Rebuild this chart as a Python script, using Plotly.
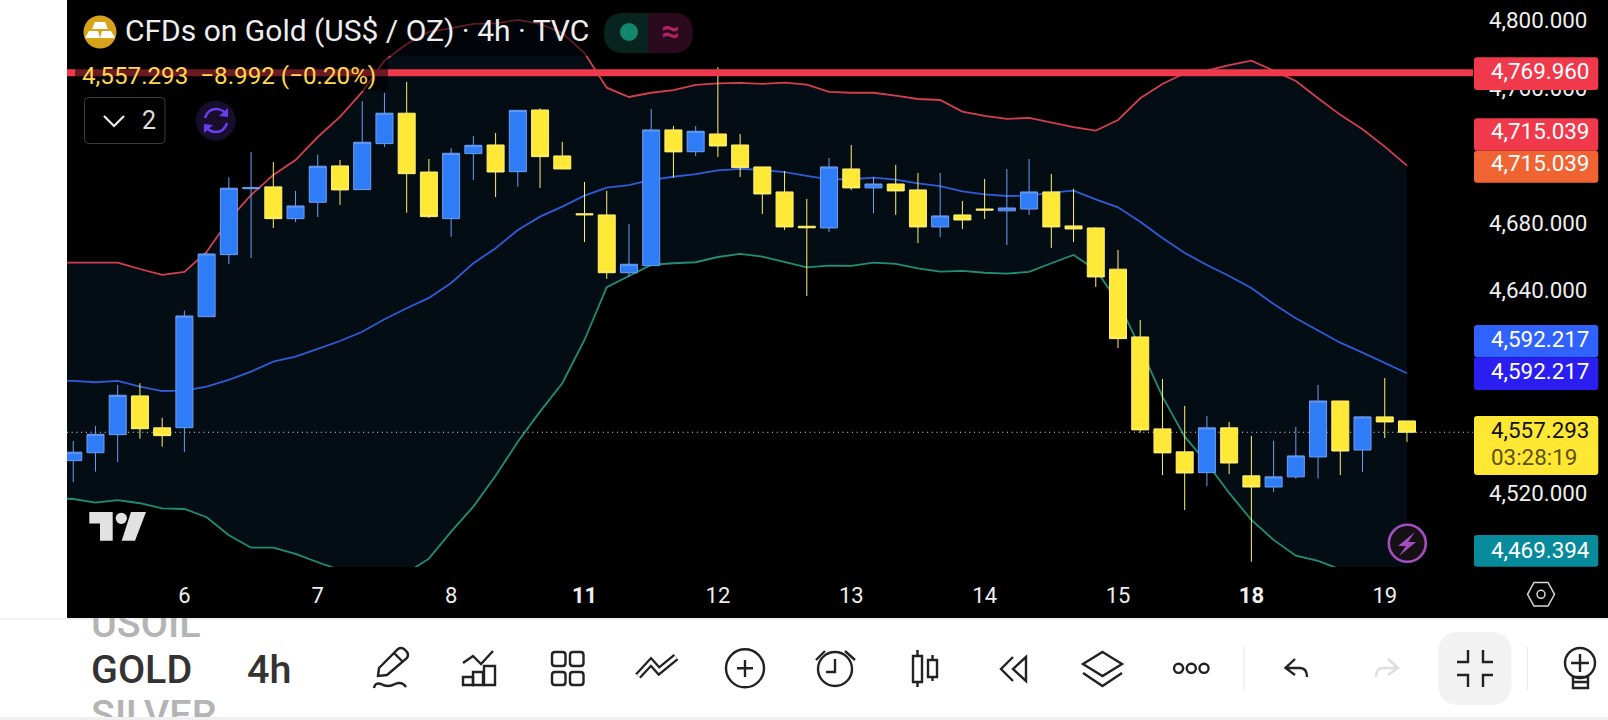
import plotly.graph_objects as go

bars = list(range(-5, 56))
band_bars = list(range(-6, 56))
opens = [4540.5,4545.2,4555.9,4578.8,4559.9,4560.0,4625.7,4662.4,4701.4,4702.5,4683.7,4693.4,4714.9,4700.9,4728.1,4746.1,4711.3,4683.7,4722.2,4727.3,4711.5,4748.0,4720.8,4686.6,4685.9,4651.7,4655.9,4736.2,4723.3,4733.8,4727.3,4714.3,4699.5,4679.2,4678.2,4713.1,4701.9,4704.2,4700.7,4678.8,4685.9,4689.4,4688.3,4689.4,4699.5,4679.4,4678.2,4653.8,4613.7,4559.3,4545.7,4533.4,4559.9,4531.5,4524.9,4530.9,4542.7,4575.8,4546.8,4566.4,4564.0]
closes = [4545.5,4556.1,4579.2,4559.4,4555.3,4626.1,4662.8,4701.7,4702.0,4683.7,4691.2,4714.7,4700.7,4728.9,4746.1,4710.3,4684.9,4722.4,4727.1,4711.3,4747.8,4720.4,4713.1,4686.0,4651.7,4656.7,4736.2,4723.2,4735.4,4726.7,4713.9,4698.3,4678.8,4678.3,4714.3,4701.9,4704.2,4700.1,4678.8,4685.3,4682.9,4688.8,4690.0,4699.5,4678.8,4677.6,4649.2,4612.7,4558.7,4545.1,4533.2,4559.9,4539.1,4524.9,4530.9,4543.3,4575.8,4546.2,4566.4,4563.4,4557.3]
highs = [4552.1,4561.0,4585.3,4586.3,4565.8,4629.3,4663.6,4708.2,4723.2,4717.2,4700.1,4721.6,4718.4,4753.2,4758.1,4764.6,4719.0,4725.4,4732.6,4734.4,4747.8,4749.0,4729.1,4705.4,4700.1,4680.6,4748.6,4738.5,4738.5,4773.3,4733.8,4714.3,4711.9,4695.4,4719.6,4727.3,4708.4,4715.5,4710.7,4710.7,4694.2,4707.2,4713.1,4719.0,4710.1,4701.3,4678.6,4665.2,4623.8,4588.8,4572.9,4567.0,4563.4,4555.1,4552.2,4560.4,4585.3,4575.8,4567.0,4589.4,4564.0]
lows = [4527.9,4534.0,4539.7,4553.5,4548.8,4545.7,4625.4,4656.9,4660.4,4678.2,4681.7,4684.7,4691.8,4700.9,4726.1,4687.2,4684.1,4673.0,4706.6,4696.5,4702.6,4701.9,4713.1,4669.9,4648.0,4649.4,4655.9,4708.0,4720.8,4720.2,4708.4,4686.5,4677.0,4638.0,4675.8,4700.7,4686.9,4685.9,4669.3,4672.7,4677.6,4683.5,4668.1,4685.9,4666.4,4669.9,4643.3,4607.2,4557.1,4532.0,4511.3,4525.5,4532.6,4480.7,4522.0,4529.7,4529.9,4532.0,4533.8,4553.9,4551.6]
bb_upper = [4657.7,4657.7,4657.7,4657.7,4653.9,4650.4,4652.2,4664.0,4682.9,4697.7,4709.6,4718.4,4732.0,4743.9,4758.7,4777.2,4787.1,4794.2,4796.5,4798.9,4799.3,4801.3,4798.9,4793.6,4781.7,4761.2,4755.7,4758.2,4759.8,4762.8,4763.8,4764.0,4763.4,4764.2,4763.0,4758.7,4758.2,4758.2,4756.5,4754.5,4753.9,4747.0,4744.5,4742.7,4743.3,4740.5,4737.8,4735.8,4742.1,4754.9,4763.4,4769.7,4771.3,4774.6,4777.2,4771.3,4765.2,4754.9,4745.1,4736.6,4726.3,4715.04]
bb_middle = [4587.9,4587.7,4586.9,4587.7,4584.3,4581.7,4581.9,4584.3,4588.3,4593.2,4599.1,4602.0,4606.6,4611.3,4616.8,4624.2,4630.7,4636.8,4645.6,4657.3,4666.2,4677.0,4684.9,4690.8,4697.3,4702.0,4703.6,4706.6,4708.5,4710.1,4712.3,4713.1,4712.5,4711.2,4709.0,4707.0,4707.0,4708.0,4706.8,4704.6,4703.0,4699.9,4698.1,4697.1,4697.3,4699.1,4700.3,4695.1,4690.4,4681.9,4672.3,4663.4,4656.3,4649.8,4642.7,4633.2,4624.8,4617.8,4610.3,4604.4,4598.5,4592.22]
bb_lower = [4518.4,4517.8,4515.7,4517.1,4515.3,4512.3,4511.9,4507.0,4496.4,4489.0,4489.0,4485.3,4480.4,4475.8,4472.9,4471.7,4474.1,4482.5,4498.5,4513.3,4531.5,4551.7,4569.5,4586.3,4611.9,4643.1,4649.8,4656.3,4657.3,4657.9,4661.0,4662.8,4661.2,4658.1,4654.9,4655.9,4655.7,4657.7,4656.9,4654.3,4652.3,4652.8,4651.7,4651.2,4652.2,4657.3,4662.2,4653.3,4634.6,4607.2,4578.4,4554.7,4539.1,4521.4,4505.4,4493.6,4484.3,4481.2,4476.2,4471.1,4469.9,4469.39]

day_bars = [0, 6, 12, 18, 24, 30, 36, 42, 48, 54]
day_labels = ["6", "7", "8", "<b>11</b>", "12", "13", "14", "15", "<b>18</b>", "19"]
price_ticks = [4800, 4760, 4680, 4640, 4520]
last_price = 4557.293
alert_price = 4769.960
x_range = [-5.281, 57.97]
y_range = [4477.57, 4813.08]

W, H = 1608, 720
FONT = "Roboto"
INK = "#222222"

fig = go.Figure()
fig.add_trace(go.Scatter(x=band_bars, y=bb_upper, mode="lines", line=dict(color="#d33f4f", width=1.8), hoverinfo="skip"))
fig.add_trace(go.Scatter(x=band_bars, y=bb_lower, mode="lines", line=dict(color="#1f8f73", width=1.8), fill="tonexty", fillcolor="#040d14", hoverinfo="skip"))
fig.add_trace(go.Scatter(x=band_bars, y=bb_middle, mode="lines", line=dict(color="#2f5cd6", width=1.8), hoverinfo="skip"))
fig.add_trace(go.Scatter(x=x_range, y=[last_price, last_price], mode="lines", line=dict(color="#e8e8d8", width=1, dash="1px,3.7px"), hoverinfo="skip"))
# candles live on overlaying axes so that they sit above the band fill
fig.add_trace(go.Candlestick(
    x=bars, open=opens, high=highs, low=lows, close=closes, hoverinfo="skip", xaxis="x4", yaxis="y4",
    increasing=dict(line=dict(color="#6d9ff5", width=1), fillcolor="#2e7cf6"),
    decreasing=dict(line=dict(color="#fff070", width=1), fillcolor="#ffe936"),
))
fig.add_trace(go.Scatter(x=x_range, y=[alert_price, alert_price], mode="lines", xaxis="x4", yaxis="y4",
                         line=dict(color="#f03a4c", width=7), hoverinfo="skip"))

# toolbar text: clipped by its own strip, like the scrolling symbol picker
fig.add_trace(go.Scatter(
    x=[91, 91, 91, 247], y=[627, 673, 718, 673], mode="text", xaxis="x2", yaxis="y2",
    text=["USOIL", "GOLD", "SILVER", "4h"], textposition="middle right",
    textfont=dict(family=FONT, size=39.5, color=["#b4b4b4", "#333333", "#b4b4b4", "#333333"], weight=500),
    hoverinfo="skip",
))
# pixel overlay axes used by the chrome
fig.add_trace(go.Scatter(x=[0], y=[0], mode="markers", marker=dict(opacity=0), xaxis="x3", yaxis="y3", hoverinfo="skip"))

shapes = []
annos = []

def path(d, line=None, width=0, fill=None, opacity=None):
    s = dict(type="path", path=d, xref="x3", yref="y3", layer="above",
             line=dict(color=line or "rgba(0,0,0,0)", width=width))
    if fill:
        s["fillcolor"] = fill
    if opacity is not None:
        s["opacity"] = opacity
    shapes.append(s)

def rrect(x0, y0, x1, y1, r, line=None, width=0, fill=None, opacity=None):
    d = (f"M{x0+r},{y0} L{x1-r},{y0} Q{x1},{y0} {x1},{y0+r} L{x1},{y1-r} Q{x1},{y1} {x1-r},{y1} "
         f"L{x0+r},{y1} Q{x0},{y1} {x0},{y1-r} L{x0},{y0+r} Q{x0},{y0} {x0+r},{y0} Z")
    path(d, line, width, fill, opacity)

def circle(cx, cy, r, line=None, width=0, fill=None):
    s = dict(type="circle", x0=cx-r, x1=cx+r, y0=cy-r, y1=cy+r, xref="x3", yref="y3", layer="above",
             line=dict(color=line or "rgba(0,0,0,0)", width=width))
    if fill:
        s["fillcolor"] = fill
    shapes.append(s)

def text(x, y, t, size, color, anchor="left", weight=None):
    f = dict(family=FONT, size=size, color=color)
    if weight:
        f["weight"] = weight
    annos.append(dict(x=x, y=y, xref="x3", yref="y3", text=t, showarrow=False, xanchor=anchor, yanchor="middle", font=f))

# page background blocks (under everything)
shapes.append(dict(type="rect", xref="paper", yref="paper", x0=67/W, x1=1, y0=(H-618)/H, y1=1, layer="below", fillcolor="#000000", line=dict(width=0)))
shapes.append(dict(type="rect", xref="paper", yref="paper", x0=0, x1=1, y0=(H-620)/H, y1=(H-618)/H, layer="below", fillcolor="#f0f0f0", line=dict(width=0)))

# legend / title dimmers
path("M75,10 L597,10 L597,56 L388,56 L388,91 L75,91 Z", fill="#000000", opacity=0.55)

# gold icon and title
circle(100, 32, 16.5, fill="#d9a21b")
path("M95,22 L105,22 L108,29 L92,29 Z", fill="#ffffff")
path("M89,31 L98,31 L100,38 L85,38 Z", fill="#ffffff")
path("M102,31 L111,31 L115,38 L100,38 Z", fill="#ffffff")
text(123, 30.5, "CFDs on Gold (US$ / OZ) · 4h · TVC", 30, "#eeeeee")

# status pill
path("M648,13 L624,13 Q604,13 604,33 Q604,53 624,53 L648,53 Z", fill="#07241f")
path("M648,13 L673,13 Q693,13 693,33 Q693,53 673,53 L648,53 Z", fill="#2a0a1c")
circle(629, 32, 9, fill="#12876c")
text(670, 31, "<b>≈</b>", 32, "#b0235f", "center")

# OHLC legend
text(80, 75.5, "4,557.293  −8.992 (−0.20%)", 24.2, "#ffd84d")

# collapse button and sync icon
rrect(84.5, 97.5, 165, 143.5, 4, line="#3c3c3c", width=1)
path("M104,116 L114,126 L124,116", line="#eeeeee", width=2.2)
text(149, 120, "2", 25, "#dddddd", "center")
circle(215.7, 120.7, 20, fill="#160e2b")
path("M205,118 Q208,109 216,109 Q223,109 227,115", line="#6b3cf0", width=2.5)
path("M228,108 L228,117 L219,116 Z", fill="#6b3cf0")
path("M227,123 Q224,132 216,132 Q209,132 205,126", line="#6b3cf0", width=2.5)
path("M204,133 L204,124 L213,125 Z", fill="#6b3cf0")

# TradingView logo
path("M89.3,512 L112.7,512 L112.7,540.7 L100,540.7 L100,523.5 L89.3,523.5 Z", fill="#e2e2e2")
circle(121.3, 518.3, 5.6, fill="#e2e2e2")
path("M131,512 L146,512 L135,540.7 L121.7,540.7 Z", fill="#e2e2e2")

# lightning
circle(1407.3, 543.3, 18.5, line="#a34fc0", width=2.6, fill="#141014")
path("M1415,532 L1398,546 L1406,546 L1399,556 L1416,542 L1408,542 Z", fill="#a34fc0")

# price badges
badges = [
    (57.3, 90, 71.4, "#f03a4c", "4,769.960"),
    (118.3, 150.7, 131.4, "#f03a4c", "4,715.039"),
    (150.7, 182.7, 163.2, "#f06433", "4,715.039"),
    (325, 357.3, 338.5, "#2f62ff", "4,592.217"),
    (357.3, 390, 371.4, "#2a1ff0", "4,592.217"),
    (535, 566.7, 549.7, "#078a9c", "4,469.394"),
]
for y0, y1, ty, c, t in badges:
    rrect(1474, y0, 1598.3, y1, 3, fill=c)
    text(1489, ty, t, 22.4, "#ffffff")
rrect(1474, 416, 1598.3, 475, 3, fill="#ffe733")
text(1489, 430.2, "4,557.293", 22.4, "#111111")
text(1489, 456.7, "03:28:19", 22.4, "#5c5200")

# settings hexagon
path("M1527.5,594.3 L1534,582.5 L1548,582.5 L1554.5,594.3 L1548,606 L1534,606 Z", line="#d8d8d8", width=1.5)
circle(1541, 594.3, 4, line="#d8d8d8", width=1.5)

# bottom toolbar icons
shapes.append(dict(type="rect", xref="paper", yref="paper", x0=0, x1=1, y0=0, y1=3/H, layer="above", fillcolor="#f0f0f0", line=dict(width=0)))
def ink(d, width=2.4, color=INK):
    path(d, line=color, width=width)

ink("M379,668 L398,649 Q401,647 404,649 L407,652 Q409,655 407,658 L387,675 L378,676 Z")
ink("M394,653 L403,662")
ink("M374,688 Q375,682 381,684 Q388,688 395,684 Q402,681 406,687")
ink("M463,663 L473,656 L481,664 L493,651")
ink("M463,677 L473,677 L473,685 L463,685 Z")
ink("M473,672 L483,672 L483,685 L473,685 Z")
ink("M484,666 L495,666 L495,685 L484,685 Z")
for gx0, gx1 in [(552, 565.5), (570, 583.5)]:
    for gy0, gy1 in [(652, 666), (672, 685)]:
        rrect(gx0, gy0, gx1, gy1, 3, line=INK, width=2.4)
ink("M638,676 L651,662 L659,671 L676,657", width=7.5)
ink("M638,676 L651,662 L659,671 L676,657", width=3, color="#ffffff")
circle(745, 668.3, 19, line=INK, width=2.4)
ink("M745,660 L745,677 M737,668.3 L753,668.3")
circle(835, 669, 17, line=INK, width=2.4)
ink("M835,659 L835,672 L826,672")
ink("M816,660 L825,651 M845,651 L855,660")
ink("M917.5,650 L917.5,656 M917.5,682 L917.5,687")
ink("M913,656 L922,656 L922,682 L913,682 Z")
ink("M932.5,655 L932.5,660 M932.5,677 L932.5,681")
ink("M928,660 L937,660 L937,677 L928,677 Z")
ink("M1013,657 L1001,669 L1013,681")
ink("M1026,657 L1013,669 L1026,681 Z")
ink("M1102.5,652 L1122,664 L1102.5,676 L1083,664 Z")
ink("M1083,673 L1102.5,686 L1122,673")
for dx in (1178.6, 1191.3, 1204):
    circle(dx, 668.3, 4.6, line=INK, width=2.4)
ink("M1244,647 L1244,690", width=1.2, color="#e8e8e8")
ink("M1527.5,647 L1527.5,690", width=1.2, color="#e8e8e8")
ink("M1295,659 L1285.5,668 L1295,675 M1286,668 L1300,668 Q1307,668 1307,677")
ink("M1388,659 L1398,668 L1388,675 M1397,668 L1383,668 Q1376,668 1376,677", color="#dddddd")
rrect(1438, 632, 1511.5, 705, 22, fill="#f2f2f2")
ink("M1457,662 L1468,662 L1468,650 M1493,662 L1483,662 L1483,650 M1457,675 L1468,675 L1468,687 M1493,675 L1483,675 L1483,687")
circle(1580, 663, 15, line=INK, width=2.4)
ink("M1580,654 L1580,672 M1571,663 L1589,663")
ink("M1573,677 L1588,677 L1588,688 L1573,688 Z M1573,682 L1588,682")

hidden = dict(visible=False, fixedrange=True)
fig.update_layout(
    width=W, height=H, autosize=False, showlegend=False,
    margin=dict(l=0, r=0, t=0, b=0, pad=0, autoexpand=False),
    paper_bgcolor="#ffffff", plot_bgcolor="rgba(0,0,0,0)",
    boxgap=0.235, boxgroupgap=0,
    font=dict(family=FONT, color="#e8e8e8"),
    xaxis=dict(domain=[67/W, 1473/W], range=x_range, tickmode="array", tickvals=day_bars, ticktext=day_labels,
               tickfont=dict(family=FONT, size=22, color="#eeeeee"), showgrid=False, zeroline=False, showline=False,
               ticks="", ticklabelstandoff=13, rangeslider=dict(visible=False), fixedrange=True),
    yaxis=dict(domain=[1-567/H, 1], range=y_range, side="right", tickmode="array", tickvals=price_ticks,
               ticktext=[f"{v:,.3f}" for v in price_ticks],
               tickfont=dict(family=FONT, size=22.4, color="#eeeeee"), showgrid=False, zeroline=False, showline=False,
               ticks="", ticklabelstandoff=15, ticklabelshift=-2, fixedrange=True),
    xaxis2=dict(domain=[0, 1], range=[0, W], anchor="y2", **hidden),
    yaxis2=dict(domain=[0, (H-618)/H], range=[H, 618], anchor="x2", **hidden),
    xaxis3=dict(domain=[0, 1], range=[0, W], anchor="y3", **hidden),
    yaxis3=dict(domain=[0, 1], range=[H, 0], anchor="x3", **hidden),
    xaxis4=dict(domain=[67/W, 1473/W], range=x_range, overlaying="x", anchor="y4", rangeslider=dict(visible=False), **hidden),
    yaxis4=dict(domain=[1-567/H, 1], range=y_range, overlaying="y", anchor="x4", side="right", **hidden),
    shapes=shapes, annotations=annos,
)
fig.write_html("out.html", config={"displayModeBar": False},
               post_script="document.body.style.margin='0';document.body.style.overflow='hidden';")
